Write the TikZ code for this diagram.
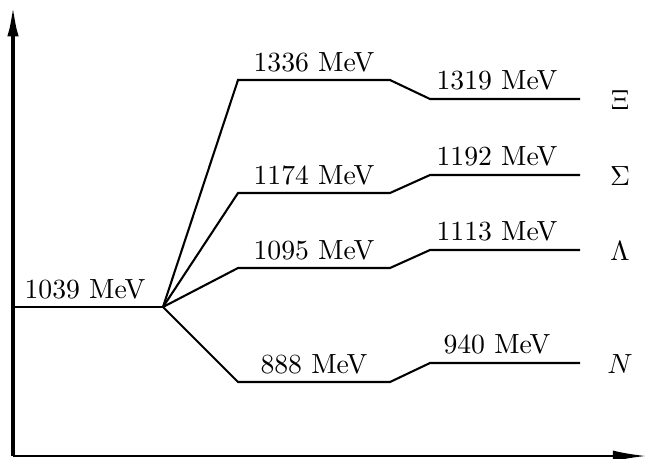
\documentclass[tikz,border=0pt]{standalone}
\usetikzlibrary{arrows.meta}
\begin{document}
\begin{tikzpicture}[x=0.361pt,y=-0.361pt,
  lvl/.style={line width=0.75pt},
  lab/.style={inner sep=0pt, anchor=base},
  part/.style={inner sep=0pt, anchor=center}]
\useasboundingbox (0,0) rectangle (649,458);
% axes
\coordinate (o) at (13,456);
\coordinate (ytop) at (13,3);
\coordinate (xend) at (646,456);
\draw[line width=1.5pt,-{Latex[length=12pt,width=4pt]}] (o) -- (ytop);
\draw[line width=0.75pt,-{Latex[length=12pt,width=4pt]}] (o) -- (xend);
% base level
\coordinate (b0) at (13,307);
\coordinate (bp) at (163,307);
\draw[lvl] (b0) -- (bp);
\node[lab] (l1039) at (85,298) {1039 MeV};
% levels
\foreach \n/\ya/\yb/\la/\lb/\sym in {xi/80/99/1336/1319/\Xi, sg/193/175/1174/1192/\Sigma, lm/268/250/1095/1113/\Lambda, nn/382/363/888/940/N}{
  \coordinate (\n a) at (238,\ya);
  \coordinate (\n b) at (390,\ya);
  \coordinate (\n c) at (430,\yb);
  \coordinate (\n d) at (580,\yb);
  \draw[lvl] (bp) -- (\n a) -- (\n b) -- (\n c) -- (\n d);
  \node[lab] (\n l1) at (314,\ya-9) {\la\ MeV};
  \node[lab] (\n l2) at (497,\yb-10) {\lb\ MeV};
  \node[part] (\n s) at (620,\yb+1) {$\sym$};
}
\end{tikzpicture}
\end{document}
